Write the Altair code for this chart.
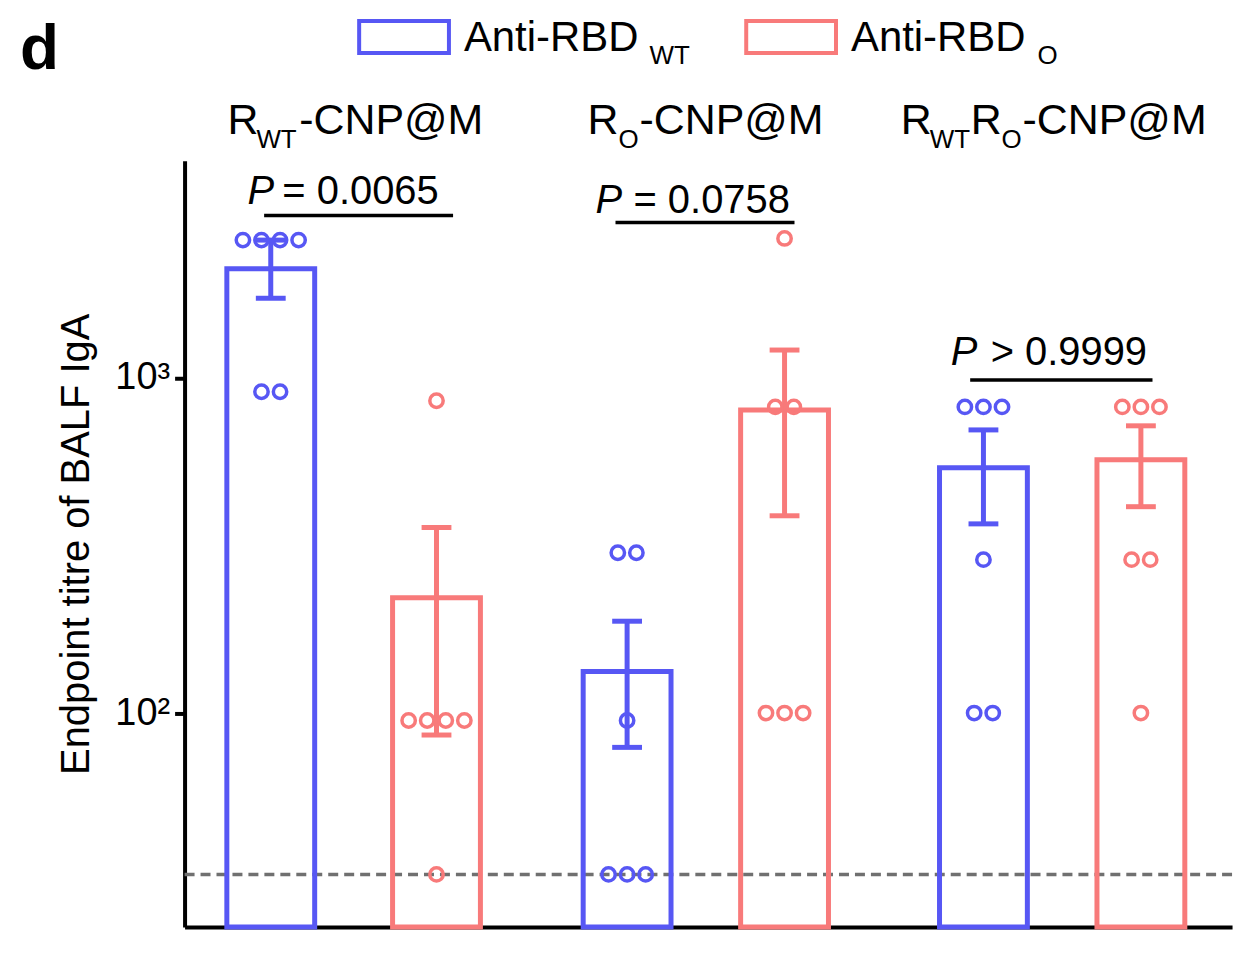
import altair as alt
import pandas as pd

BLUE = "#5757f4"
RED = "#f87a7a"
FONT = "Liberation Sans"

# bar positions (x units), series and values
bar_pos = [0.0, 1.0, 2.15, 3.1, 4.3, 5.25]
bar_series = ["WT", "O", "WT", "O", "WT", "O"]
bar_mean = [2120, 221, 133, 803, 540, 570]
err_lo = [1730, 86, 79, 388, 367, 413]
err_hi = [2580, 358, 188, 1212, 700, 720]
points = [
    [2580, 2580, 2580, 2580, 910, 910],
    [855, 95, 95, 95, 95, 33],
    [301, 301, 95, 33, 33, 33],
    [2610, 820, 820, 100, 100, 100],
    [820, 820, 820, 287, 100, 100],
    [820, 820, 820, 287, 287, 100],
]
LOD = 33
Y_MIN, Y_MAX = 23, 4450
X_MIN, X_MAX = -0.52, 5.8

colors = alt.Scale(domain=["WT", "O"], range=[BLUE, RED])
xs = alt.Scale(domain=[X_MIN, X_MAX], nice=False, zero=False)
ys = alt.Scale(type="log", domain=[Y_MIN, Y_MAX], nice=False)

bars = pd.DataFrame({"x": [p - 0.265 for p in bar_pos], "x2": [p + 0.265 for p in bar_pos],
                     "s": bar_series, "y": bar_mean, "y0": Y_MIN})
errs = pd.DataFrame({"x": bar_pos, "s": bar_series, "lo": err_lo, "hi": err_hi,
                     "cl": [p - 0.09 for p in bar_pos], "cr": [p + 0.09 for p in bar_pos]})

rows = []
for p, s, vals in zip(bar_pos, bar_series, points):
    for v in set(vals):
        n = vals.count(v)
        for k in range(n):
            rows.append({"x": p + (k - (n - 1) / 2) * 0.112, "y": v, "s": s})
pts = pd.DataFrame(rows)

base = alt.Chart(bars)
bar = base.mark_bar(fillOpacity=0, strokeWidth=5).encode(
    x=alt.X("x:Q", scale=xs, axis=alt.Axis(labels=False, ticks=False, grid=False, title=None,
                                            domainWidth=4, domainColor="black")),
    x2="x2", y=alt.Y("y:Q", scale=ys), y2="y0",
    stroke=alt.Stroke("s:N", scale=colors, legend=None))

eb = alt.Chart(errs)
err_v = eb.mark_rule(strokeWidth=5).encode(
    x="x:Q", y=alt.Y("lo:Q", scale=ys), y2="hi", color=alt.Color("s:N", scale=colors, legend=None))
cap_lo = eb.mark_rule(strokeWidth=5).encode(
    x="cl:Q", x2="cr", y=alt.Y("lo:Q", scale=ys), color=alt.Color("s:N", scale=colors, legend=None))
cap_hi = eb.mark_rule(strokeWidth=5).encode(
    x="cl:Q", x2="cr", y=alt.Y("hi:Q", scale=ys), color=alt.Color("s:N", scale=colors, legend=None))

dots = alt.Chart(pts).mark_point(shape="circle", filled=False, size=180, strokeWidth=3.5, opacity=1).encode(
    x="x:Q", y=alt.Y("y:Q", scale=ys), color=alt.Color("s:N", scale=colors, legend=None))

lod = alt.Chart(pd.DataFrame({"y": [LOD], "a": [X_MIN], "b": [X_MAX]})).mark_rule(
    color="#707070", strokeWidth=3.5, strokeDash=[10, 6]).encode(x="a:Q", x2="b", y=alt.Y("y:Q", scale=ys))

# significance brackets
br = pd.DataFrame({"a": [-0.04, 2.08, 4.22], "b": [1.10, 3.16, 5.32], "y": [3055, 2910, 986]})
brackets = alt.Chart(br).mark_rule(color="black", strokeWidth=3.5).encode(
    x="a:Q", x2="b", y=alt.Y("y:Q", scale=ys))

# annotation text in pixel offsets from plot origin
ann = pd.DataFrame([
    # text, x, y, size, style, weight
    ("d", -165, -92, 64, "normal", "bold"),
    ("Anti-RBD", 280, -110, 42, "normal", "normal"),
    ("WT", 466, -97, 26, "normal", "normal"),
    ("Anti-RBD", 668, -110, 42, "normal", "normal"),
    ("O", 855, -97, 26, "normal", "normal"),
    ("R", 43, -27, 43, "normal", "normal"),
    ("WT", 72, -13, 26, "normal", "normal"),
    ("-CNP@M", 115, -27, 43, "normal", "normal"),
    ("R", 404, -27, 43, "normal", "normal"),
    ("O", 435, -13, 26, "normal", "normal"),
    ("-CNP@M", 456, -27, 43, "normal", "normal"),
    ("R", 718, -27, 43, "normal", "normal"),
    ("WT", 747, -13, 26, "normal", "normal"),
    ("R", 788, -27, 43, "normal", "normal"),
    ("O", 819, -13, 26, "normal", "normal"),
    ("-CNP@M", 840, -27, 43, "normal", "normal"),
    ("P", 63, 43, 40, "italic", "normal"),
    ("= 0.0065", 98, 43, 40, "normal", "normal"),
    ("P", 412, 52, 40, "italic", "normal"),
    ("= 0.0758", 450, 52, 40, "normal", "normal"),
    ("P", 768, 205, 40, "italic", "normal"),
    ("> 0.9999", 808, 205, 40, "normal", "normal"),
], columns=["t", "px", "py", "size", "style", "weight"])

texts = []
for (size, style, weight), g in ann.groupby(["size", "style", "weight"]):
    texts.append(alt.Chart(g).mark_text(align="left", baseline="alphabetic", font=FONT,
                                        fontSize=int(size), fontStyle=style, fontWeight=weight,
                                        color="black").encode(
        x=alt.X("px:Q", scale=None), y=alt.Y("py:Q", scale=None), text="t:N"))

leg = pd.DataFrame({"a": [175, 563], "b": [265, 653], "s": ["WT", "O"]})
legbox = alt.Chart(leg).mark_rect(fillOpacity=0, strokeWidth=4).encode(
    x=alt.X("a:Q", scale=None), x2="b", y=alt.value(-140), y2=alt.value(-108),
    stroke=alt.Stroke("s:N", scale=colors, legend=None))

yaxis_layer = alt.Chart(pd.DataFrame({"y": [100]})).mark_point(opacity=0).encode(
    y=alt.Y("y:Q", scale=ys, axis=alt.Axis(
        values=[100, 1000], labelExpr="datum.value == 100 ? '10²' : '10³'",
        title="Endpoint titre of BALF IgA", titleFontSize=40, titleFont=FONT, titleFontWeight="normal",
        titleColor="black", titlePadding=18, labelFont=FONT, labelFontSize=38, labelColor="black",
        tickSize=10, tickWidth=4, tickColor="black", domainWidth=4, domainColor="black",
        grid=False, labelPadding=5)))

chart = alt.layer(yaxis_layer, lod, bar, err_v, cap_lo, cap_hi, dots, brackets, legbox, *texts).properties(
    width=1050, height=768, padding={"left": 177, "top": 152, "right": 20, "bottom": 30},
    autosize=alt.AutoSizeParams(type="none")
).configure_view(stroke=None).configure_axis(grid=False)

chart.save("out.html", embed_options={"renderer": "svg", "actions": False})
